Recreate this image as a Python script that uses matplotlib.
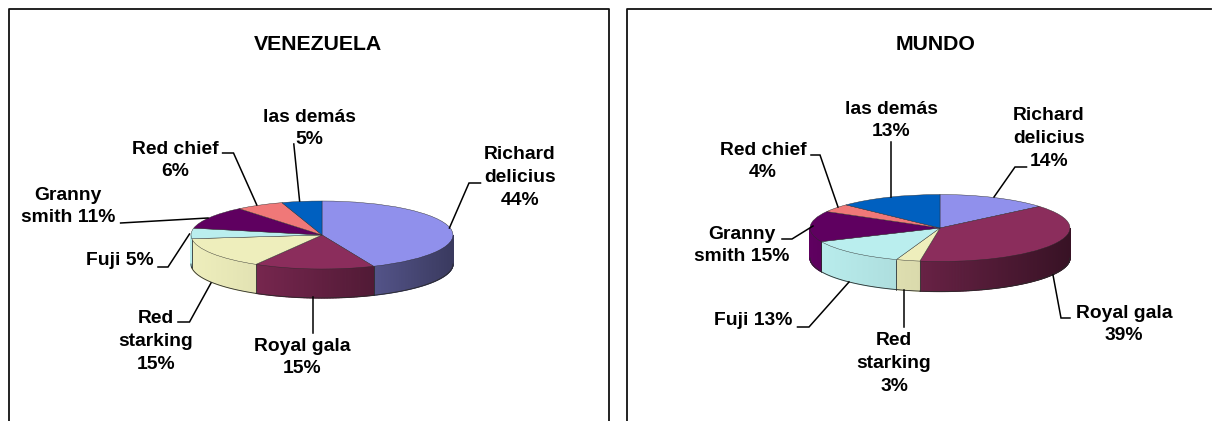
import numpy as np
import matplotlib
matplotlib.use("Agg")
import matplotlib.pyplot as plt
from matplotlib.colors import to_rgb
from matplotlib.patches import Polygon

plt.rcParams['font.family'] = ['Liberation Sans', 'DejaVu Sans']

W, H = 1215, 421

slice_names = ['Richard delicius', 'Royal gala', 'Red starking', 'Fuji',
               'Granny smith', 'Red chief', 'las demás']
venezuela_values = [44, 15, 15, 5, 11, 6, 5]
mundo_values = [14, 39, 3, 13, 15, 4, 13]
slice_colors = ['#9090EC', '#8B2D5C', '#EEEEBC', '#BAEEEE',
                '#5F0060', '#F07878', '#0060C0']

venezuela_title = 'VENEZUELA'
venezuela_labels = ['Richard\ndelicius\n44%', 'Royal gala\n15%', 'Red\nstarking\n15%',
                    'Fuji 5%', 'Granny\nsmith 11%', 'Red chief\n6%', 'las demás\n5%']
mundo_title = 'MUNDO'
mundo_labels = ['Richard\ndelicius\n14%', 'Royal gala\n39%', 'Red\nstarking\n3%',
                'Fuji 13%', 'Granny\nsmith 15%', 'Red chief\n4%', 'las demás\n13%']

# layout, in reference pixels
venezuela_layout = dict(
    cx=322, cy=235, rx=131, ry=34, depth=29, title=(318, 45),
    label_pos=[(520, 177.5), (302, 357.5), (156, 341.5), (120, 260.5), (68, 206.5), (175, 160.5), (309, 128.5)],
    leaders=[[(449.4, 228), (469, 183), (480.5, 183)],
             [(313, 297), (313, 333)],
             [(211, 283), (189.5, 322), (178, 322)],
             [(189.5, 234), (168, 267), (158, 267)],
             [(208, 218), (120.6, 223)],
             [(256.8, 205), (233.5, 153), (222.6, 153)],
             [(299.6, 201), (293.8, 144)]])
mundo_layout = dict(
    cx=940, cy=228, rx=130, ry=33.5, depth=30, title=(936, 45),
    label_pos=[(1049, 138.5), (1124, 324.5), (894, 363.5), (753.6, 320.5), (742, 245.5), (763, 161.5), (891, 120.5)],
    leaders=[[(994, 197), (1015, 167), (1026.5, 167)],
             [(1053, 275), (1061, 318), (1070, 318)],
             [(903.6, 290), (903.6, 327)],
             [(849, 282), (809, 327), (797.5, 327)],
             [(813, 226), (792, 239), (782, 239)],
             [(838, 207), (820, 155), (811, 155)],
             [(891, 197), (891, 142)]])

FS = 13.9
TITLE_FS = 15.3
EDGE = '#2a2a2a'

fig = plt.figure(figsize=(W / 100, H / 100), dpi=100, facecolor='white')


def draw_pie(values, L):
    left = (L['cx'] - L['rx']) / W
    width = 2 * L['rx'] / W
    bottom_px = L['cy'] + L['ry'] + L['depth']
    ax = fig.add_axes([left, 1 - bottom_px / H, width, (2 * L['ry'] + L['depth']) / H])
    d = L['depth'] / L['ry']
    fracs = np.array(values, dtype=float) / sum(values)
    edges = np.concatenate([[0], np.cumsum(fracs)]) * 360  # clockwise from 12 o'clock

    # side wall: visible front half only, shaded left-light to right-dark
    for i, col in enumerate(slice_colors):
        a0, a1 = max(edges[i], 90), min(edges[i + 1], 270)
        if a1 <= a0:
            continue
        steps = np.linspace(a0, a1, max(2, int((a1 - a0) * 1.5)) + 1)
        rgb = np.array(to_rgb(col))
        for s0, s1 in zip(steps[:-1], steps[1:]):
            th = np.radians(np.linspace(s0, s1, 3))
            x, y = np.sin(th), np.cos(th)
            mid = np.sin(np.radians((s0 + s1) / 2))
            if col in ('#EEEEBC', '#BAEEEE'):
                shade = 1 - 0.1 * (mid + 1)
            else:
                shade = 1 - 0.3 * (mid + 1)
            poly = np.column_stack([np.r_[x, x[::-1]], np.r_[y, y[::-1] - d]])
            ax.add_patch(Polygon(poly, closed=True, facecolor=rgb * shade,
                                 edgecolor=rgb * shade, lw=0.9, zorder=1))
        th = np.radians(np.linspace(a0, a1, 40))
        ax.plot(np.sin(th), np.cos(th) - d, color=EDGE, lw=0.6, zorder=2)
        for a in (a0, a1):
            t = np.radians(a)
            if 90 < a < 270:
                ax.plot([np.sin(t)] * 2, [np.cos(t), np.cos(t) - d], color=EDGE, lw=0.4, zorder=2)

    # top surface
    wedges, _ = ax.pie(values, colors=slice_colors, startangle=90, counterclock=False,
                       radius=1, center=(0, 0), frame=True,
                       wedgeprops=dict(edgecolor=EDGE, linewidth=0.3, zorder=3))
    ax.set_aspect('auto')
    ax.set_xlim(-1, 1)
    ax.set_ylim(-1 - d, 1)
    ax.set_xticks([])
    ax.set_yticks([])
    ax.patch.set_alpha(0)
    for sp in ax.spines.values():
        sp.set_visible(False)
    for a in ax.patches:
        a.set_clip_on(False)
    for a in ax.lines:
        a.set_clip_on(False)


draw_pie(venezuela_values, venezuela_layout)
draw_pie(mundo_values, mundo_layout)

ov = fig.add_axes([0, 0, 1, 1], zorder=5)
ov.set_xlim(0, W)
ov.set_ylim(H, 0)
ov.axis('off')
ov.patch.set_alpha(0)

# panel frames: bottoms are cut off by the image edge
ov.plot([8.5, 8.5, 609, 609], [H, 9, 9, H], color='#111111', lw=1.3, clip_on=False)
ov.plot([627, 627, 1211], [H, 9, 9], color='#111111', lw=1.3, clip_on=False)

for title, labels, L in ((venezuela_title, venezuela_labels, venezuela_layout),
                         (mundo_title, mundo_labels, mundo_layout)):
    ov.text(*L['title'], title, ha='center', va='center', fontsize=TITLE_FS, fontweight='bold')
    for lab, pos, lead in zip(labels, L['label_pos'], L['leaders']):
        ov.text(pos[0], pos[1], lab, ha='center', va='center', fontsize=FS,
                fontweight='bold', linespacing=1.43)
        xs, ys = zip(*lead)
        ov.plot(xs, ys, color='black', lw=1.1, solid_joinstyle='miter')

fig.savefig('out.png', dpi=100)
